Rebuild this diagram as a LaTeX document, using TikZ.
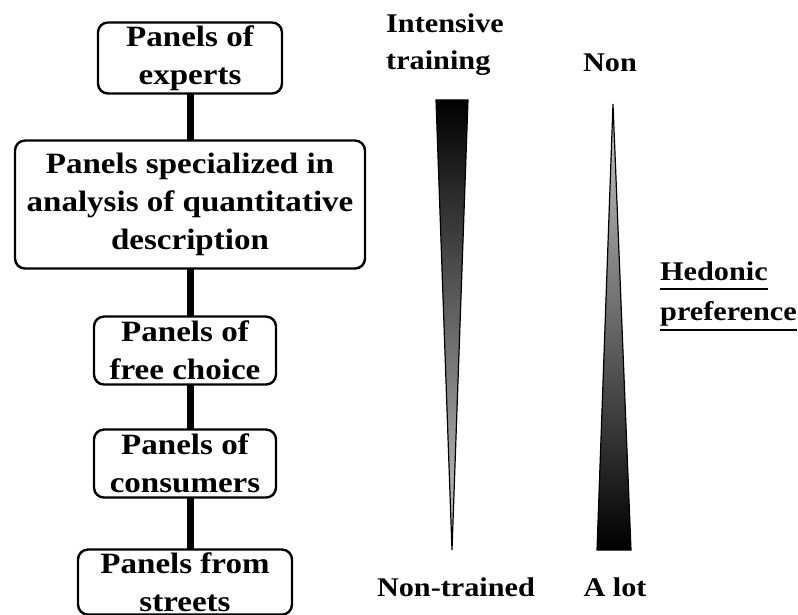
\documentclass[tikz,border=0pt]{standalone}
\usepackage{fontspec}
\setmainfont{Liberation Serif}[FakeStretch=1.12]
\usepackage{tikz}
\usetikzlibrary{positioning,calc}

\newcommand{\lblfont}{\fontsize{27pt}{37pt}\selectfont\bfseries}
\newcommand{\boxfont}{\fontsize{29.5pt}{38pt}\selectfont\bfseries}

\begin{document}
\begin{tikzpicture}[
  x=1pt, y=-1pt,
  every node/.style={font=\lblfont, inner sep=3pt},
  panel/.style={rectangle, rounded corners=10pt, draw, line width=2.4pt, outer sep=0pt, font=\boxfont, minimum width=184pt, minimum height=68pt, align=center},
  link/.style={line width=7pt},
  wedge/.style={draw=black, line width=1.2pt},
  uline/.style={line width=2.6pt},
  node distance=47pt
]
\useasboundingbox (0,0) rectangle (798,615);
% panels, from experts down to the street
\node[panel] (experts) at (190,58) {Panels of\\experts};
\node[panel, minimum width=350pt, minimum height=128pt, below=47pt of experts] (quanti) {Panels specialized in\\analysis of quantitative\\description};
\node[panel, minimum width=182pt, below=48pt of quanti, xshift=-5pt] (free) {Panels of\\free choice};
\node[panel, minimum width=182pt, below=45pt of free] (consum) {Panels of\\consumers};
\node[panel, minimum width=214pt, minimum height=64pt, below=52pt of consum] (street) {Panels from\\streets};
\draw[link] (experts.south) -- (experts.south |- quanti.north);
\draw[link] (quanti.south -| experts.south) -- (free.north -| experts.south);
\draw[link] (free.south -| experts.south) -- (consum.north -| experts.south);
\draw[link] (consum.south -| experts.south) -- (street.north -| experts.south);
% training scale
\shade[wedge, top color=black, middle color=gray!65, bottom color=gray!40] (436,100) -- (468,100) -- (452,550) -- cycle;
\node[align=left, anchor=west] (intensive) at (383,45) {Intensive\\training};
\node (nontrained) at (456,587) {Non-trained};
% hedonic scale
\shade[wedge, top color=gray!40, middle color=gray!65, bottom color=black] (613,104) -- (631,550) -- (597,550) -- cycle;
\node (non) at (610,63) {Non};
\node (alot) at (615,587) {A lot};
\node[anchor=base west] (hedonic) at (657,280) {Hedonic};
\node[anchor=base west] (preference) at (657,320) {preference};
\draw[uline] ($(hedonic.base west)+(3,9)$) -- ($(hedonic.base east)+(-3,9)$);
\draw[uline] ($(preference.base west)+(3,10)$) -- ($(preference.base east)+(-3,10)$);
\end{tikzpicture}
\end{document}
